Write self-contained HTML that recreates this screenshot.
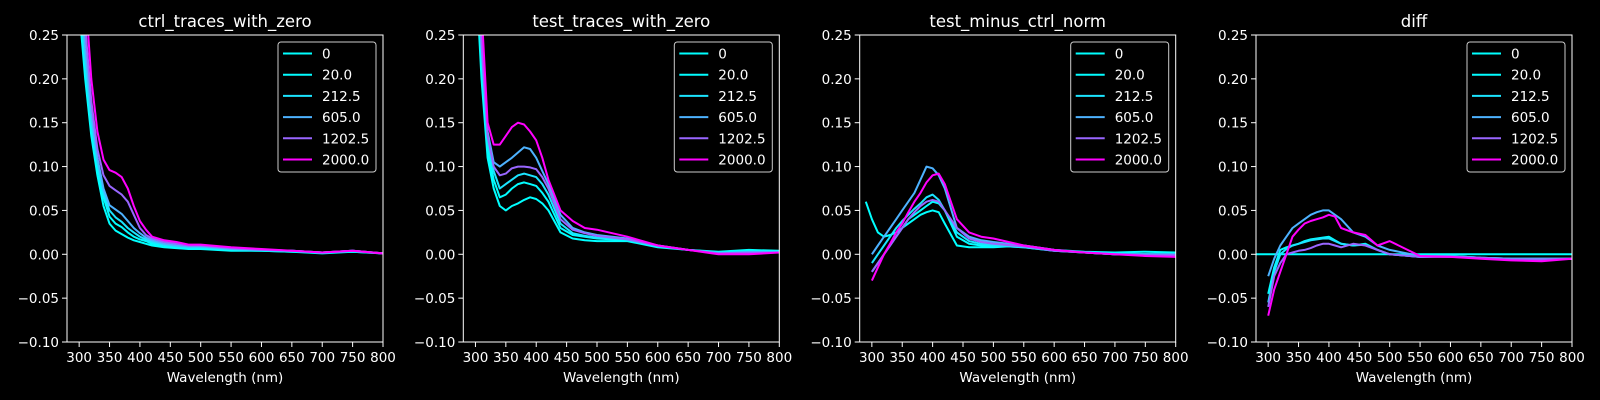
<!DOCTYPE html>
<html><head><meta charset="utf-8"><style>
html,body{margin:0;padding:0;background:#000;}
svg{display:block;font-family:"DejaVu Sans","Liberation Sans",sans-serif;}
</style></head><body>
<svg id="fig" width="1600" height="400" viewBox="0 0 1600 400"></svg>
<script>
const n = null;
const wavelengths = [280,290,300,310,320,330,340,350,360,370,380,390,400,410,420,440,460,480,500,550,600,650,700,750,800];
const seriesLabels = ["0","20.0","212.5","605.0","1202.5","2000.0"];
const seriesColors = ["#00ffff","#03fcff","#1be4ff","#4db2ff","#9966ff","#ff00ff"];
const panelTitles = ["ctrl_traces_with_zero","test_traces_with_zero","test_minus_ctrl_norm","diff"];
const xTicks = [300,350,400,450,500,550,600,650,700,750,800];
const yTicks = [-0.10,-0.05,0.00,0.05,0.10,0.15,0.20,0.25];

const ctrl0 = [n,n,0.28,0.2,0.135,0.09,0.055,0.035,0.027,0.023,0.019,0.016,0.014,0.012,0.01,0.008,0.007,0.006,0.006,0.004,0.004,0.003,0.001,0.003,0.001];
const ctrl20 = [n,n,0.3,0.21,0.145,0.1,0.065,0.043,0.035,0.031,0.025,0.02,0.017,0.015,0.012,0.01,0.008,0.007,0.007,0.005,0.004,0.003,0.002,0.003,0.001];
const ctrl212 = [n,n,0.32,0.22,0.15,0.105,0.07,0.05,0.042,0.037,0.03,0.025,0.02,0.017,0.014,0.011,0.009,0.008,0.008,0.006,0.005,0.004,0.002,0.004,0.001];
const ctrl605 = [n,n,0.34,0.235,0.16,0.11,0.075,0.056,0.051,0.046,0.038,0.03,0.024,0.019,0.016,0.012,0.01,0.009,0.009,0.006,0.005,0.004,0.002,0.004,0.001];
const ctrl1202 = [n,n,0.38,0.26,0.175,0.12,0.09,0.078,0.073,0.068,0.06,0.045,0.03,0.022,0.018,0.014,0.012,0.01,0.01,0.007,0.005,0.004,0.002,0.004,0.001];
const ctrl2000 = [n,n,0.45,0.3,0.2,0.14,0.108,0.096,0.093,0.088,0.075,0.055,0.038,0.028,0.02,0.016,0.014,0.011,0.011,0.008,0.006,0.004,0.002,0.004,0.001];

const test0 = [n,n,0.33,0.2,0.11,0.075,0.055,0.05,0.055,0.058,0.062,0.065,0.063,0.058,0.05,0.025,0.018,0.016,0.015,0.015,0.008,0.005,0.003,0.005,0.004];
const test20 = [n,n,0.35,0.22,0.12,0.085,0.065,0.068,0.075,0.08,0.082,0.08,0.078,0.07,0.06,0.03,0.022,0.02,0.018,0.016,0.009,0.005,0.002,0.004,0.003];
const test212 = [n,n,0.37,0.23,0.13,0.095,0.075,0.08,0.085,0.09,0.092,0.09,0.088,0.08,0.068,0.035,0.024,0.021,0.019,0.017,0.009,0.005,0.002,0.003,0.003];
const test605 = [n,n,0.4,0.25,0.14,0.105,0.1,0.105,0.11,0.116,0.122,0.12,0.11,0.095,0.08,0.045,0.03,0.025,0.022,0.018,0.01,0.005,0.001,0.002,0.002];
const test1202 = [n,n,0.38,0.24,0.135,0.1,0.09,0.092,0.098,0.1,0.1,0.099,0.097,0.088,0.075,0.04,0.028,0.024,0.021,0.017,0.01,0.005,0.001,0.002,0.002];
const test2000 = [n,n,0.45,0.28,0.15,0.125,0.125,0.135,0.145,0.15,0.148,0.14,0.13,0.11,0.085,0.05,0.038,0.03,0.028,0.02,0.01,0.005,0.0,0.0,0.002];

const norm0 = [n,0.06,0.04,0.025,0.02,0.022,0.025,0.03,0.035,0.04,0.045,0.048,0.05,0.048,0.035,0.01,0.008,0.008,0.008,0.01,0.005,0.003,0.002,0.003,0.002];
const norm20 = [n,n,-0.02,-0.01,0.0,0.01,0.02,0.03,0.04,0.045,0.05,0.055,0.06,0.058,0.05,0.02,0.012,0.01,0.01,0.008,0.004,0.002,0.0,0.0,0.0];
const norm212 = [n,n,-0.01,0.0,0.01,0.02,0.03,0.038,0.045,0.052,0.058,0.065,0.068,0.062,0.05,0.025,0.015,0.012,0.01,0.008,0.004,0.002,0.0,0.0,0.0];
const norm605 = [n,n,0.0,0.01,0.02,0.03,0.04,0.05,0.06,0.07,0.085,0.1,0.098,0.09,0.075,0.03,0.02,0.016,0.014,0.01,0.005,0.002,0.0,0.0,0.0];
const norm1202 = [n,n,-0.02,-0.01,0.0,0.01,0.02,0.03,0.04,0.048,0.055,0.06,0.062,0.06,0.05,0.03,0.018,0.014,0.012,0.009,0.004,0.002,0.0,-0.001,-0.001];
const norm2000 = [n,n,-0.03,-0.015,0.0,0.012,0.025,0.035,0.048,0.06,0.07,0.082,0.09,0.092,0.08,0.04,0.025,0.02,0.018,0.01,0.005,0.002,0.0,-0.002,-0.003];

const diff0 = [0,0,0,0,0,0,0,0,0,0,0,0,0,0,0,0,0,0,0,0,0,0,0,0,0];
const diff20 = [n,n,-0.045,-0.015,0.005,0.008,0.01,0.012,0.015,0.017,0.018,0.019,0.02,0.016,0.012,0.01,0.012,0.005,0.0,-0.003,-0.002,-0.004,-0.005,-0.005,-0.005];
const diff212 = [n,n,-0.055,-0.02,0.0,0.006,0.01,0.012,0.014,0.016,0.017,0.018,0.018,0.015,0.012,0.01,0.011,0.005,0.0,-0.003,-0.002,-0.004,-0.005,-0.005,-0.005];
const diff605 = [n,n,-0.025,-0.005,0.01,0.02,0.03,0.035,0.04,0.045,0.048,0.05,0.05,0.045,0.04,0.025,0.02,0.01,0.005,-0.002,-0.002,-0.004,-0.005,-0.005,-0.005];
const diff1202 = [n,n,-0.06,-0.025,-0.01,0.0,0.002,0.004,0.005,0.007,0.01,0.012,0.012,0.01,0.008,0.012,0.01,0.005,0.0,-0.003,-0.003,-0.004,-0.006,-0.006,-0.005];
const diff2000 = [n,n,-0.07,-0.04,-0.02,0.0,0.02,0.028,0.035,0.038,0.04,0.042,0.045,0.043,0.03,0.025,0.022,0.01,0.015,-0.002,-0.003,-0.005,-0.007,-0.008,-0.005];

const panelSeries = [
  [ctrl0,ctrl20,ctrl212,ctrl605,ctrl1202,ctrl2000],
  [test0,test20,test212,test605,test1202,test2000],
  [norm0,norm20,norm212,norm605,norm1202,norm2000],
  [diff0,diff20,diff212,diff605,diff1202,diff2000]
];

const NS = "http://www.w3.org/2000/svg";
const svg = document.getElementById("fig");
function mk(tag, attrs, parent){
  const e = document.createElementNS(NS, tag);
  for (const k in attrs) e.setAttribute(k, attrs[k]);
  (parent||svg).appendChild(e);
  return e;
}
const panelLefts = [67,463.3,859.7,1256];
const PW = 316, TOP = 35, BOT = 342;
const XMIN = 280, XMAX = 800, YMIN = -0.10, YMAX = 0.25;

panelTitles.forEach((title, p) => {
  const L = panelLefts[p];
  const xs = v => L + (v - XMIN) / (XMAX - XMIN) * PW;
  const ys = v => BOT - (v - YMIN) / (YMAX - YMIN) * (BOT - TOP);
  const g = mk("g", {});
  
  
  const clip = mk("clipPath", {id: "clip"+p}, g);
  mk("rect", {x:L, y:TOP, width:PW, height:BOT-TOP}, clip);

  const t = mk("text", {x:L+PW/2, y:27, fill:"#fff", "font-size":"16.5", "text-anchor":"middle"}, g);
  t.textContent = title;
  
  

  const sg = mk("g", {"clip-path":"url(#clip"+p+")"}, g);
  panelSeries[p].forEach((vals, s) => {
    let d = "";
    vals.forEach((v, i) => {
      if (v === null) return;
      d += (d ? "L" : "M") + xs(wavelengths[i]).toFixed(1) + "," + ys(v).toFixed(1);
    });
    const path = mk("path", {d:d, fill:"none", stroke:seriesColors[s], "stroke-width":"2", "stroke-linejoin":"round"}, sg);
    
    
  });

  const fr = mk("rect", {x:L, y:TOP, width:PW, height:BOT-TOP, fill:"none", stroke:"#fff", "stroke-width":"1"}, g);
  
  

  xTicks.forEach(v => {
    const x = xs(v);
    mk("line", {x1:x, x2:x, y1:BOT, y2:BOT+5, stroke:"#fff", "stroke-width":"1"}, g);
    const tl = mk("text", {x:x, y:BOT+20, fill:"#fff", "font-size":"13.5", "text-anchor":"middle"}, g);
    tl.textContent = v;
    
    
  });
  yTicks.forEach(v => {
    const y = ys(v);
    mk("line", {x1:L-5, x2:L, y1:y, y2:y, stroke:"#fff", "stroke-width":"1"}, g);
    const tl = mk("text", {x:L-8, y:y+5, fill:"#fff", "font-size":"13.5", "text-anchor":"end"}, g);
    tl.textContent = (v < 0 ? "\u2212" : "") + Math.abs(v).toFixed(2);
    
    
  });
  const xl = mk("text", {x:L+PW/2, y:382, fill:"#fff", "font-size":"13.5", "text-anchor":"middle"}, g);
  xl.textContent = "Wavelength (nm)";
  
  

  const lg = mk("g", {}, g);
  
  
  const LX = L + PW - 105;
  mk("rect", {x:LX, y:42, width:98, height:130, rx:3, fill:"#000", "fill-opacity":"0.8", stroke:"#ccc", "stroke-width":"1"}, lg);
  seriesLabels.forEach((lab, s) => {
    const y = 53.5 + s*21.2;
    mk("line", {x1:LX+5, x2:LX+34, y1:y, y2:y, stroke:seriesColors[s], "stroke-width":"2"}, lg);
    const tx = mk("text", {x:LX+44, y:y+5, fill:"#fff", "font-size":"13.5"}, lg);
    tx.textContent = lab;
    
    
  });
});
</script>
</body></html>
